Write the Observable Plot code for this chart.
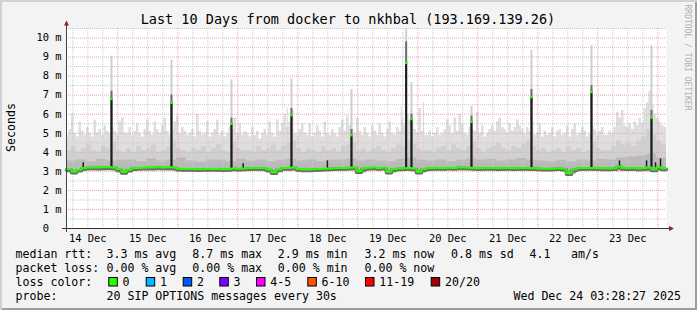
<!DOCTYPE html>
<html><head><meta charset="utf-8">
<script src="https://cdn.jsdelivr.net/npm/d3@7"></script>
<script src="https://cdn.jsdelivr.net/npm/@observablehq/plot@0.6"></script>
<style>
html,body{margin:0;padding:0;background:#f3f3f3;}
#wrap{position:relative;width:697px;height:310px;background:#f3f3f3;box-shadow:inset 2px 2px 0 #d2d2d2, inset -2px -2px 0 #9c9c9c;overflow:hidden;}
#wrap svg{position:absolute;left:0;top:0;}
</style></head>
<body><div id="wrap"></div>
<script>
// ---------- text ----------
const title = "Last 10 Days from docker to nkhbal (193.169.139.26)";
const yAxisTitle = "Seconds";
const watermark = "RRDTOOL / TOBI OETIKER";
const rangeStart = "2025-12-14T03:28:27Z";
const rangeEnd = "2025-12-24T03:28:27Z";
const dayLabels = ["14 Dec","15 Dec","16 Dec","17 Dec","18 Dec","19 Dec","20 Dec","21 Dec","22 Dec","23 Dec"];
const dayLabelTimes = ["2025-12-14T12:00Z","2025-12-15T12:00Z","2025-12-16T12:00Z","2025-12-17T12:00Z","2025-12-18T12:00Z","2025-12-19T12:00Z","2025-12-20T12:00Z","2025-12-21T12:00Z","2025-12-22T12:00Z","2025-12-23T12:00Z"];
const yTicks = [0,1,2,3,4,5,6,7,8,9,10];
const yTickLabels = ["0\u00a0\u00a0","1 m","2 m","3 m","4 m","5 m","6 m","7 m","8 m","9 m","10 m"];
const yMinorTicks = [0.5,1.5,2.5,3.5,4.5,5.5,6.5,7.5,8.5,9.5,10.5];
const yMax = 10.5;

// ---------- data (ms) ----------
// outer smoke top, one value per hour from rangeStart
const smokeTop = [
4.9,5.2,6.0,5.0,4.8,5.6,5.1,4.9,5.3,5.0,4.8,5.7,5.0,5.2,4.9,5.4,5.1,5.0,5.3,5.1,4.9,5.6,5.8,5.0,
5.0,5.3,4.9,5.1,5.5,5.0,4.8,5.2,5.7,5.1,4.9,5.6,5.2,5.0,5.4,5.8,5.1,4.9,5.2,5.6,5.9,5.0,5.3,5.1,
4.9,5.0,5.2,4.8,6.0,5.1,4.9,5.0,5.6,4.8,5.0,5.2,5.7,4.9,5.1,4.8,5.0,5.3,5.2,5.8,5.0,5.5,4.9,5.1,
5.0,4.8,5.3,4.9,5.1,4.7,5.0,5.2,4.9,5.6,5.0,4.8,5.7,5.1,5.5,6.0,5.3,5.6,6.2,5.0,4.9,5.2,5.5,5.0,
4.9,5.5,4.8,5.0,5.4,5.1,4.8,5.6,5.0,4.9,5.2,5.0,4.8,5.3,5.7,5.1,5.9,5.4,5.2,5.0,5.8,5.1,4.9,5.3,
5.0,4.8,5.4,5.1,4.9,5.5,5.0,4.8,5.2,5.6,5.0,4.9,5.3,5.1,5.8,5.4,6.0,5.7,5.5,5.2,5.0,6.3,5.1,4.9,
4.9,5.1,4.8,5.0,5.3,4.9,5.0,5.2,5.7,5.4,5.0,5.8,5.1,6.0,5.5,5.0,4.9,5.3,5.2,5.1,6.1,5.0,5.4,4.8,
5.0,5.2,5.4,5.1,5.6,5.8,5.3,5.2,5.0,5.5,5.1,5.3,5.7,5.4,5.2,5.0,5.3,5.1,5.6,4.9,5.0,5.5,4.8,5.1,
4.9,5.0,5.3,4.8,5.1,5.2,4.9,5.0,5.4,4.8,5.2,5.5,4.9,5.0,5.3,5.1,4.8,5.0,5.4,5.2,4.9,5.1,5.3,4.9,
4.9,5.1,5.0,5.3,6.1,5.8,6.2,5.4,5.3,5.5,5.2,5.6,5.4,5.8,5.5,6.3,6.6,7.2,6.5,6.0,5.8,5.6,5.4,5.3];
// middle smoke top, one value per 2 hours
const smokeMid = [
4.1,4.3,4.0,4.2,4.4,4.1,4.0,4.3,4.2,4.5,4.1,4.0,
4.2,4.0,4.3,4.1,4.2,4.4,4.0,4.1,4.3,4.6,4.2,4.1,
4.0,4.2,4.1,4.3,4.0,4.2,4.4,4.1,4.0,4.5,4.2,4.1,
4.1,4.0,4.3,4.1,4.2,4.4,4.1,4.3,4.5,4.6,4.2,4.0,
4.2,4.1,4.0,4.3,4.1,4.2,4.0,4.3,4.4,4.5,4.1,4.2,
4.0,4.2,4.3,4.1,4.0,4.2,4.4,4.3,4.6,4.4,4.2,4.1,
4.1,4.0,4.2,4.3,4.1,4.4,4.2,4.1,4.3,4.5,4.2,4.0,
4.2,4.3,4.5,4.2,4.1,4.3,4.2,4.4,4.6,4.3,4.1,4.2,
4.0,4.1,4.2,4.0,4.3,4.1,4.2,4.0,4.1,4.5,4.2,4.1,
4.1,4.3,4.6,4.4,4.5,4.3,4.6,4.8,5.2,4.9,4.6,4.4];
// inner smoke top, one value per 4 hours
const smokeInner = [
3.55,3.6,3.5,3.62,3.55,3.58, 3.6,3.52,3.65,3.55,3.6,3.7,
3.55,3.5,3.6,3.58,3.52,3.62, 3.55,3.6,3.5,3.58,3.62,3.55,
3.6,3.52,3.58,3.6,3.65,3.55, 3.6,3.55,3.5,3.62,3.7,3.58,
3.55,3.6,3.52,3.58,3.65,3.6, 3.62,3.55,3.6,3.68,3.58,3.55,
3.52,3.58,3.5,3.6,3.55,3.62, 3.6,3.7,3.75,3.8,3.9,3.7];
// smoke bottom, one value per 4 hours
const smokeLow = [
2.92,3.02,3.03,3.02,3.03,2.9,3.03,3.04,3.02,3.03,
3.02,3.0,3.01,3.0,3.02,3.0,3.01,3.02,3.0,3.02,
2.9,3.0,3.02,2.98,3.0,3.01,3.0,3.02,3.03,2.92,
3.03,3.04,2.92,3.02,3.03,2.92,3.02,3.03,3.04,3.03,
3.04,3.03,3.04,3.02,3.03,3.02,3.01,3.02,3.0,3.01,
2.85,3.0,3.02,3.03,3.01,3.0,3.02,2.98,2.97,3.0];
// median rtt, one value per 2 hours
const medianRtt = [
3.12,2.98,3.08,3.18,3.2,3.2,3.2,3.21,3.22,3.2,3.12,2.96,
3.08,3.16,3.18,3.19,3.2,3.2,3.21,3.2,3.22,3.2,3.14,3.13,
3.12,3.12,3.11,3.12,3.12,3.13,3.12,3.11,3.13,3.15,3.14,3.15,
3.16,3.17,3.18,3.16,3.1,2.95,3.1,3.17,3.18,3.2,3.12,3.1,
3.1,3.11,3.12,3.14,3.15,3.16,3.17,3.18,3.19,3.2,3.0,3.15,
3.19,3.2,3.18,3.19,2.98,3.12,3.15,3.16,3.18,3.15,2.98,3.12,
3.16,3.17,3.18,3.18,3.19,3.18,3.2,3.2,3.19,3.18,3.16,3.17,
3.18,3.17,3.16,3.18,3.17,3.16,3.17,3.18,3.17,3.16,3.15,3.14,
3.14,3.15,3.16,3.14,2.9,3.1,3.16,3.17,3.18,3.18,3.16,3.15,
3.15,3.16,3.25,3.18,3.16,3.17,3.15,3.17,3.2,3.1,3.22,3.15];
// daily spikes
const spikeTimes = ["2025-12-14T21:28Z","2025-12-15T21:28Z","2025-12-16T21:28Z","2025-12-17T21:28Z","2025-12-18T21:28Z","2025-12-19T19:20Z","2025-12-19T21:28Z","2025-12-20T21:28Z","2025-12-21T21:28Z","2025-12-22T21:28Z","2025-12-23T21:28Z"];
const spikeMedian = [6.8,6.6,5.5,5.95,4.9,8.7,5.75,5.6,6.9,7.17,5.82];
const spikeDark   = [7.2,7.0,5.8,6.3,5.2,9.8,6.0,5.9,7.3,7.5,6.2];
const spikeMax    = [9.05,8.85,7.8,7.85,7.3,10.5,7.65,6.4,9.35,9.6,9.6];
const spikeBase = 3.15;
// small bumps
const bumpTimes = ["2025-12-14T10:10Z","2025-12-17T02:10Z","2025-12-18T11:50Z","2025-12-23T08:40Z","2025-12-23T19:30Z","2025-12-23T23:05Z","2025-12-24T01:05Z"];
const bumpTop = [3.45,3.4,3.55,3.55,3.55,3.45,3.65];
// isolated thin smoke lines
const thinTimes = ["2025-12-17T19:46Z","2025-12-19T17:22Z","2025-12-20T02:16Z"];
const thinTop = [6.3,6.4,6.6];

// legend
const medianStats = ["3.3 ms avg","8.7 ms max","2.9 ms min","3.2 ms now","0.8 ms sd","4.1","am/s"];
const lossStats = ["0.00 % avg","0.00 % max","0.00 % min","0.00 % now"];
const lossLabels = ["0","1","2","3","4-5","6-10","11-19","20/20"];
const lossColors = ["#26ff00","#00b8ff","#0059ff","#7e00ff","#ff00ff","#ff5500","#ff0000","#a10000"];
const probeText = "20 SIP OPTIONS messages every 30s";
const stampText = "Wed Dec 24 03:28:27 2025";

// ---------- build ----------
const MONO = "DejaVu Sans Mono";
const T0 = new Date(rangeStart), T1 = new Date(rangeEnd);
const H = 3600e3;
const tAt = h => new Date(+T0 + h * H);

function series(values, hours, extra) {
  const out = values.map((v, i) => Object.assign({t: tAt(i * hours), v}, extra ? extra(i) : {}));
  out.push(Object.assign({}, out[out.length - 1], {t: T1}));
  return out;
}
const outer = series(smokeTop, 1, i => ({low: smokeLow[Math.floor(i / 4)]}));
const mid = series(smokeMid, 2, i => ({low: smokeLow[Math.floor(i / 2)]}));
const inner = series(smokeInner, 4, i => ({low: smokeLow[i]}));
const med = series(medianRtt, 2);

const spikes = spikeTimes.map((s, i) => ({t: new Date(s), m: spikeMedian[i], d: spikeDark[i], mx: spikeMax[i]}));
const bumps = bumpTimes.map((s, i) => ({t: new Date(s), v: bumpTop[i]}));
const thins = thinTimes.map((s, i) => ({t: new Date(s), v: thinTop[i]}));

const dayTimes = dayLabelTimes.map(s => new Date(s));
const labelOf = new Map(dayTimes.map((d, i) => [+d, dayLabels[i]]));
const majorX = d3.utcDay.range(T0, T1);
const minorX = d3.utcHour.every(6).range(T0, T1).filter(d => d.getUTCHours() !== 0);

const chart = Plot.plot({
  width: 697, height: 310,
  marginLeft: 66, marginRight: 31, marginTop: 28, marginBottom: 82,
  style: {background: "transparent", fontFamily: MONO, overflow: "visible"},
  x: {type: "utc", domain: [T0, T1]},
  y: {domain: [0, yMax]},
  marks: [
    Plot.frame({fill: "white", stroke: null}),
    Plot.areaY(outer, {x: "t", y1: "low", y2: "v", curve: "step-after", fill: "#dedede"}),
    Plot.ruleX(thins, {x: "t", y1: spikeBase, y2: "v", stroke: "#d6d6d6", strokeWidth: 1}),
    Plot.areaY(mid, {x: "t", y1: "low", y2: "v", curve: "step-after", fill: "#d0d0d0"}),
    Plot.areaY(inner, {x: "t", y1: "low", y2: "v", curve: "step-after", fill: "#b9b9b9"}),
    Plot.gridY(yMinorTicks, {stroke: "#c8c8c8", strokeOpacity: 1, strokeDasharray: "1,1"}),
    Plot.gridY(yTicks.filter(v => v > 0), {stroke: "#eea4a4", strokeOpacity: 1, strokeDasharray: "1,1"}),
    Plot.gridX(minorX, {stroke: "#c8c8c8", strokeOpacity: 1, strokeDasharray: "1,1"}),
    Plot.gridX(majorX, {stroke: "#eea4a4", strokeOpacity: 1, strokeDasharray: "1,1"}),
    Plot.ruleX(spikes, {x: "t", y1: spikeBase, y2: "mx", stroke: "#cfcfcf", strokeWidth: 2}),
    Plot.ruleX(spikes, {x: "t", y1: spikeBase, y2: "d", stroke: "#6f6f6f", strokeWidth: 2}),
    Plot.ruleX(spikes, {x: "t", y1: spikeBase, y2: "m", stroke: "#1c1c1c", strokeWidth: 2}),
    Plot.ruleX(bumps, {x: "t", y1: spikeBase, y2: "v", stroke: "#1c1c1c", strokeWidth: 1.5}),
    Plot.line(med, {x: "t", y: "v", curve: "step-after", stroke: "#6a6a6a", strokeWidth: 3.5, dy: 1}),
    Plot.line(med, {x: "t", y: "v", curve: "step-after", stroke: "#26ff00", strokeWidth: 2}),
    Plot.dot(spikes, {x: "t", y: "m", symbol: "square", r: 1.4, fill: "#26ff00", stroke: null}),
    Plot.axisX(dayTimes, {tickSize: 0, tickPadding: 6, fontSize: 10.4, fontFamily: MONO, fill: "#000",
      tickFormat: d => labelOf.get(+d), label: null}),
    Plot.axisY(yTicks, {tickSize: 0, tickPadding: 5, fontSize: 10.4, fontFamily: MONO, fill: "#000",
      tickFormat: d => yTickLabels[yTicks.indexOf(d)], label: null})
  ]
});
document.getElementById("wrap").appendChild(chart);

// ---------- axes decorations, title, legend ----------
const svg = d3.select(chart);
const X = chart.scale("x"), Y = chart.scale("y");
const x0 = X.apply(T0), x1 = X.apply(T1), y0 = Y.apply(0), yTop = Y.apply(yMax);
const deco = svg.append("g");
deco.append("line").attr("x1", x0 - 4).attr("x2", x1 + 4).attr("y1", y0 + 0.5).attr("y2", y0 + 0.5).attr("stroke", "#333");
deco.append("line").attr("x1", x0 + 0.5).attr("x2", x0 + 0.5).attr("y1", y0 + 4).attr("y2", yTop - 4).attr("stroke", "#444");
deco.append("path").attr("d", `M${x0 - 2}, ${yTop - 2.5}L${x0 + 3},${yTop - 2.5}L${x0 + 0.5},${yTop - 7.5}Z`).attr("fill", "#962020");
deco.append("path").attr("d", `M${x1 + 3},${y0 - 2}L${x1 + 3},${y0 + 3}L${x1 + 8},${y0 + 0.5}Z`).attr("fill", "#962020");

const txt = svg.append("g").attr("font-family", MONO).attr("fill", "#000")
  .attr("text-anchor", "start").style("white-space", "pre");
txt.append("text").attr("x", 348).attr("y", 24).attr("text-anchor", "middle").attr("font-size", 13.5).text(title);
txt.append("text").attr("transform", "translate(15,127.5) rotate(-90)").attr("text-anchor", "middle").attr("font-size", 11.6).text(yAxisTitle);
txt.append("text").attr("transform", "translate(685,4.5) rotate(90)").attr("font-size", 8).attr("fill", "#b0b0b0").text(watermark);

const L = txt.append("g").attr("font-size", 11.6);
const row1 = 257.5, row2 = 271.5, row3 = 285.5, row4 = 300;
const col1 = 15.5;
L.append("text").attr("x", col1).attr("y", row1).text("median rtt:");
const medX = [106.5, 192.3, 277.8, 364.5, 451, 529.5, 571];
medianStats.forEach((s, i) => L.append("text").attr("x", medX[i]).attr("y", row1).text(s));
L.append("text").attr("x", col1).attr("y", row2).text("packet loss:");
const lossX = [106.5, 192.3, 277.8, 364.5];
lossStats.forEach((s, i) => L.append("text").attr("x", lossX[i]).attr("y", row2).text(s));
L.append("text").attr("x", col1).attr("y", row3).text("loss color:");
const swX = [108.3, 145.7, 182.7, 219.3, 256, 307.3, 365, 430.7];
lossLabels.forEach((s, i) => {
  L.append("rect").attr("x", swX[i] + 0.5).attr("y", 277.5).attr("width", 8.5).attr("height", 8.5)
    .attr("fill", lossColors[i]).attr("stroke", "#000").attr("stroke-width", 1);
  L.append("text").attr("x", swX[i] + 14.3).attr("y", row3).text(s);
});
L.append("text").attr("x", col1).attr("y", row4).text("probe:");
L.append("text").attr("x", 106.5).attr("y", row4).text(probeText);
L.append("text").attr("x", 681).attr("y", row4).attr("text-anchor", "end").text(stampText);
</script>
</body></html>
